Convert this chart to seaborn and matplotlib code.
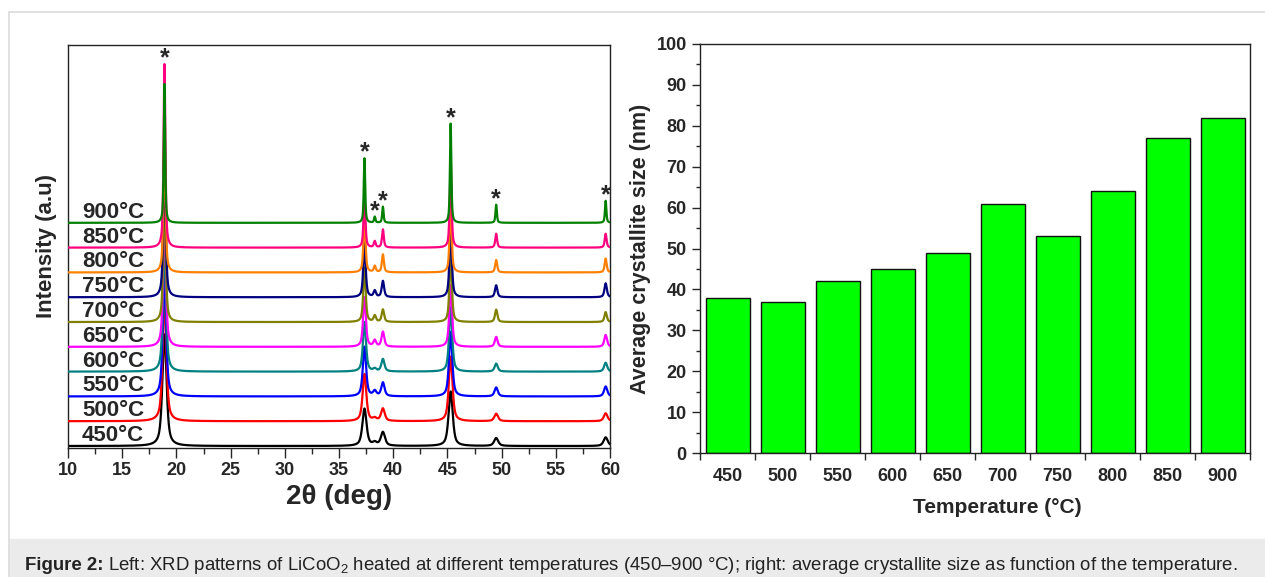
import numpy as np
import pandas as pd
import matplotlib
matplotlib.use("Agg")
import matplotlib.pyplot as plt
import seaborn as sns
from matplotlib.patches import Rectangle
from matplotlib.lines import Line2D

# ---------------- data ----------------
temps = [450, 500, 550, 600, 650, 700, 750, 800, 850, 900]
temp_labels = ["450°C", "500°C", "550°C", "600°C", "650°C",
               "700°C", "750°C", "800°C", "850°C", "900°C"]
colors = ["#000000", "#ff0000", "#0000ff", "#008080", "#ff00ff",
          "#808000", "#000080", "#ff8000", "#ff0080", "#008000"]

# XRD reflections (2theta, deg) and heights (in units of the stacking offset)
peak_pos = [18.9, 37.35, 38.3, 39.05, 45.3, 49.5, 59.6]
h_189 = [4.5, 5.0, 5.0, 5.2, 5.5, 5.5, 5.8, 6.0, 7.4, 5.6]
h_374 = [1.5, 1.9, 2.0, 2.0, 2.0, 2.2, 2.2, 2.4, 2.2, 2.6]
h_383 = [0.12, 0.10, 0.20, 0.10, 0.25, 0.25, 0.25, 0.25, 0.25, 0.24]
h_391 = [0.55, 0.50, 0.55, 0.50, 0.60, 0.50, 0.65, 0.72, 0.73, 0.65]
h_453 = [2.2, 2.6, 2.6, 2.6, 2.5, 2.8, 2.8, 3.0, 3.5, 4.0]
h_495 = [0.32, 0.30, 0.36, 0.32, 0.40, 0.50, 0.48, 0.50, 0.56, 0.73]
h_596 = [0.35, 0.32, 0.40, 0.36, 0.48, 0.40, 0.56, 0.56, 0.56, 0.89]
fwhm = [0.45, 0.40, 0.36, 0.34, 0.30, 0.26, 0.26, 0.22, 0.20, 0.15]

# crystallite size
size_temps = ["450", "500", "550", "600", "650", "700", "750", "800", "850", "900"]
crystallite = [38, 37, 42, 45, 49, 61, 53, 64, 77, 82]

# ---------------- style ----------------
sns.set_style("ticks")
plt.rcParams["font.family"] = ["Liberation Sans", "DejaVu Sans"]
plt.rcParams["font.weight"] = "bold"
plt.rcParams["mathtext.fontset"] = "custom"
plt.rcParams["mathtext.rm"] = "Liberation Sans:weight=normal"
plt.rcParams["mathtext.it"] = "Liberation Sans:italic"
plt.rcParams["mathtext.bf"] = "Liberation Sans:bold"
plt.rcParams["axes.edgecolor"] = "#222222"
plt.rcParams["axes.linewidth"] = 1.0

W, H = 1265, 577
fig = plt.figure(figsize=(W / 100, H / 100), dpi=100)

def fx(px):
    return px / W

def fy(py):
    return 1 - py / H

# frame and caption bar
fig.add_artist(Line2D([fx(9), 1], [fy(12), fy(12)], color="#dcdcdc", lw=1.2))
fig.add_artist(Line2D([fx(9), fx(9)], [fy(12), 0], color="#dcdcdc", lw=1.2))
fig.add_artist(Rectangle((fx(9), 0), 1 - fx(9), 38 / H, color="#ebebeb", zorder=0))

# ---------------- left: XRD ----------------
ax1 = fig.add_axes([fx(68), fy(448), fx(610 - 68), (448 - 45) / H])
grid = np.round(np.arange(10.0, 60.0001, 0.01), 2)
heights = np.array([h_189, h_374, h_383, h_391, h_453, h_495, h_596])
rows = []
for i, t in enumerate(temps):
    g = fwhm[i] / 2
    y = np.zeros_like(grid)
    for j, p in enumerate(peak_pos):
        lor = 1 / (1 + ((grid - p) / g) ** 2)
        gau = np.exp(-np.log(2) * ((grid - p) / g) ** 2)
        y += heights[j, i] * (0.65 * lor + 0.35 * gau)
    rows.append(pd.DataFrame({"two_theta": grid, "intensity": y + i, "T": temp_labels[i]}))
df = pd.concat(rows, ignore_index=True)
for i, lab in enumerate(temp_labels):
    sns.lineplot(data=df[df["T"] == lab], x="two_theta", y="intensity",
                 color=colors[i], lw=1.6, ax=ax1, zorder=2 + i)
    ax1.text(11.3, i + 0.2, lab, fontsize=16, fontweight="bold",
             ha="left", va="baseline", zorder=20)

# stars above the 900 °C reflections
for j, p in enumerate(peak_pos):
    top = max(k + heights[j, k] for k in range(len(temps)))
    ax1.text(p, top - 0.05, "*", fontsize=18, fontweight="bold",
             ha="center", va="baseline", zorder=30)

ax1.set_xlim(10, 60)
ax1.set_ylim(-0.08, 16.17)
ax1.set_xticks(np.arange(10, 61, 5))
ax1.set_xticks(np.arange(12.5, 60, 5), minor=True)
ax1.set_yticks([])
ax1.tick_params(axis="x", which="major", direction="out", length=7, width=1,
                labelsize=13, pad=3)
ax1.tick_params(axis="x", which="minor", direction="out", length=4, width=1)
for lbl in ax1.get_xticklabels():
    lbl.set_fontweight("bold")
ax1.set_xlabel("2θ (deg)", fontsize=20, fontweight="bold", labelpad=4)
ax1.set_ylabel("Intensity (a.u)", fontsize=16, fontweight="bold", labelpad=8)
for s in ax1.spines.values():
    s.set_visible(True)

# ---------------- right: crystallite size ----------------
ax2 = fig.add_axes([fx(700), fy(453), fx(1250 - 700), (453 - 44) / H])
sns.barplot(x=size_temps, y=crystallite, order=size_temps, color="#00ff00",
            saturation=1, edgecolor="#111111", linewidth=1.0, width=0.8, ax=ax2)
ax2.set_xlim(-0.5, 9.5)
ax2.set_ylim(0, 100)
ax2.set_yticks(np.arange(0, 101, 10))
ax2.set_yticks(np.arange(5, 100, 10), minor=True)
ax2.set_xticks(np.arange(-0.5, 10, 1.0))
ax2.set_xticklabels([])
ax2.set_xticks(np.arange(0, 10), size_temps, minor=True)
ax2.tick_params(axis="y", which="major", direction="out", length=6, width=1, labelsize=13)
ax2.tick_params(axis="y", which="minor", direction="out", length=3, width=1)
ax2.tick_params(axis="x", which="major", direction="out", length=5, width=1)
ax2.tick_params(axis="x", which="minor", direction="out", length=0, labelsize=13, pad=11)
for lbl in ax2.get_yticklabels() + ax2.get_xticklabels(minor=True):
    lbl.set_fontweight("bold")
ax2.set_xlabel("Temperature (°C)", fontsize=15, fontweight="bold", labelpad=12)
ax2.xaxis.set_label_coords(0.54, -0.11)
ax2.set_ylabel("Average crystallite size (nm)", fontsize=15.5, fontweight="bold", labelpad=4)
for s in ax2.spines.values():
    s.set_visible(True)

# ---------------- caption ----------------
t1 = fig.text(fx(25), fy(565), "Figure 2:", fontsize=13.4, fontweight="bold",
              ha="left", va="center", color="#222222")
fig.canvas.draw()
bb = t1.get_window_extent()
fig.text(bb.x1 / W + 4 / W, fy(565),
         "Left: XRD patterns of LiCoO$_2$ heated at different temperatures (450–900 °C); "
         "right: average crystallite size as function of the temperature.",
         fontsize=13.4, fontweight="normal", ha="left", va="center", color="#222222")

fig.savefig("out.png", dpi=100)
